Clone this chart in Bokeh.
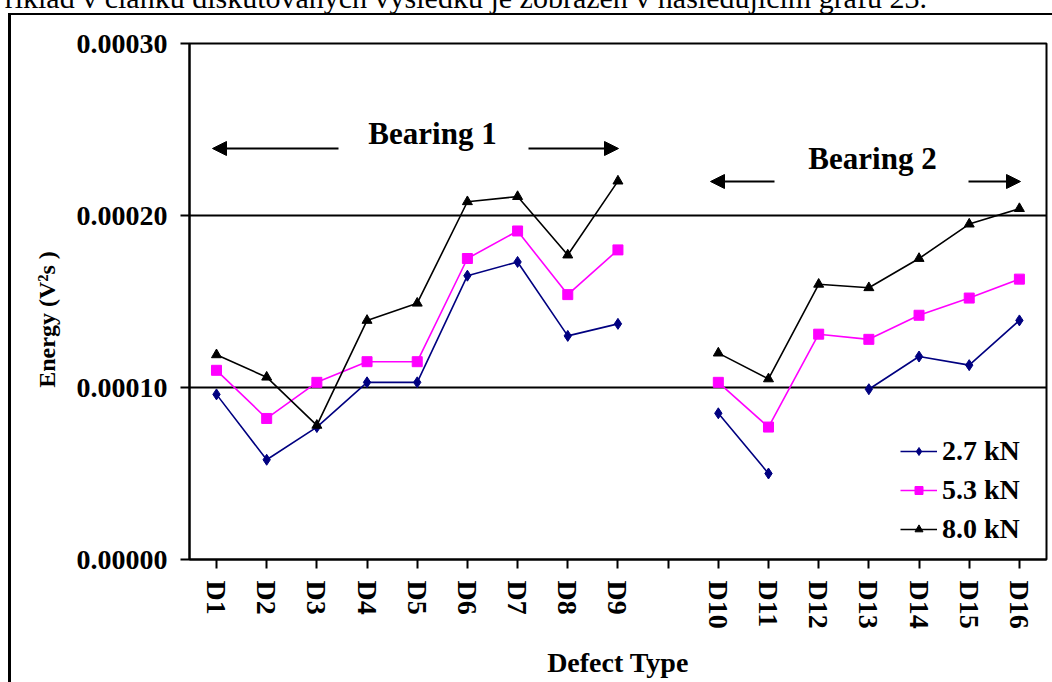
from bokeh.plotting import figure
from bokeh.layouts import column
from bokeh.models import (Range1d, FixedTicker, Label, Arrow, NormalHead, Legend,
                          LegendItem, PrintfTickFormatter, Div)
from bokeh.embed import file_html
from bokeh.resources import INLINE

nan = float("nan")

# ---- data -------------------------------------------------------------
slots = ["D1", "D2", "D3", "D4", "D5", "D6", "D7", "D8", "D9", "",
         "D10", "D11", "D12", "D13", "D14", "D15", "D16"]
defects = ["D1", "D2", "D3", "D4", "D5", "D6", "D7", "D8", "D9",
           "D10", "D11", "D12", "D13", "D14", "D15", "D16"]
energy_27 = [0.000096, 0.000058, 0.000077, 0.000103, 0.000103, 0.000165, 0.000173,
             0.000130, 0.000137, 0.000085, 0.000050, nan, 0.000099, 0.000118,
             0.000113, 0.000139]
energy_53 = [0.000110, 0.000082, 0.000103, 0.000115, 0.000115, 0.000175, 0.000191,
             0.000154, 0.000180, 0.000103, 0.000077, 0.000131, 0.000128, 0.000142,
             0.000152, 0.000163]
energy_80 = [0.000119, 0.000106, 0.000078, 0.000139, 0.000149, 0.000208, 0.000211,
             0.000177, 0.000220, 0.000120, 0.000105, 0.000160, 0.000158, 0.000175,
             0.000195, 0.000204]
y_ticks = [0.0, 0.0001, 0.0002, 0.0003]
series_labels = ["2.7 kN", "5.3 kN", "8.0 kN"]
sentence = "Příklad v článku diskutovaných výsledků je zobrazen v následujícím grafu 23."

xs = list(range(1, len(slots) + 1))

def on_slots(vals):
    m = dict(zip(defects, vals))
    return [m.get(s, nan) for s in slots]

FONT = "Liberation Serif"

W, H = 1052, 682
FL, FR, FT, FB = 189, 1046, 43, 559          # frame edges in pixels
X0, X1 = 0.462, 17.54
Y0, Y1 = 0.0, 0.0003

def px2x(px):
    return X0 + (px - FL) * (X1 - X0) / (FR - FL)

def py2y(py):
    return Y0 + (FB - py) * (Y1 - Y0) / (FB - FT)

p = figure(width=W, height=H, x_range=Range1d(X0, X1), y_range=Range1d(Y0, Y1),
           output_backend="svg", toolbar_location=None,
           min_border_left=FL, min_border_right=W - FR,
           min_border_top=FT, min_border_bottom=H - FB)
p.background_fill_color = "white"
p.border_fill_color = "white"
p.outline_line_color = "black"
p.outline_line_width = 2

# grid
p.xgrid.visible = False
p.ygrid.ticker = FixedTicker(ticks=y_ticks)
p.ygrid.grid_line_color = "black"
p.ygrid.grid_line_width = 2

# y axis
p.yaxis.ticker = FixedTicker(ticks=y_ticks)
p.yaxis.formatter = PrintfTickFormatter(format="%.5f")
p.yaxis.minor_tick_line_color = None
p.yaxis.major_tick_out = 9
p.yaxis.major_tick_in = 0
p.yaxis.major_tick_line_width = 2
p.yaxis.axis_line_width = 2
p.yaxis.major_label_text_font = FONT
p.yaxis.major_label_text_font_style = "bold"
p.yaxis.major_label_text_font_size = "28px"
p.yaxis.major_label_text_color = "black"
p.yaxis.major_label_standoff = 13
# trailing no-break spaces move the centred title slightly lower, as in the original
p.yaxis.axis_label = "Energy (V²s )" + "\u00a0" * 6
p.yaxis.axis_label_text_font = FONT
p.yaxis.axis_label_text_font_style = "bold"
p.yaxis.axis_label_text_font_size = "24px"
p.yaxis.axis_label_text_color = "black"
p.yaxis.axis_label_standoff = 14

# x axis
p.xaxis.ticker = FixedTicker(ticks=xs)
p.xaxis.major_label_overrides = {x: s for x, s in zip(xs, slots)}
p.xaxis.major_label_orientation = "vertical"
p.xaxis.minor_tick_line_color = None
p.xaxis.major_tick_out = 9
p.xaxis.major_tick_in = 0
p.xaxis.major_tick_line_width = 2
p.xaxis.axis_line_width = 2
p.xaxis.major_label_text_font = FONT
p.xaxis.major_label_text_font_style = "bold"
p.xaxis.major_label_text_font_size = "28px"
p.xaxis.major_label_text_color = "black"
p.xaxis.major_label_standoff = 12
p.xaxis.axis_label = "Defect Type"
p.xaxis.axis_label_text_font = FONT
p.xaxis.axis_label_text_font_style = "bold"
p.xaxis.axis_label_text_font_size = "28px"
p.xaxis.axis_label_text_color = "black"
p.xaxis.axis_label_standoff = 15

# series
y27, y53, y80 = on_slots(energy_27), on_slots(energy_53), on_slots(energy_80)
l1 = p.line(xs, y27, line_color="#000080", line_width=1.6)
s1 = p.scatter(xs, y27, marker="diamond", size=11, fill_color="#000080",
               line_color="#000080")
l2 = p.line(xs, y53, line_color="#ff00ff", line_width=1.6)
s2 = p.scatter(xs, y53, marker="square", size=10, fill_color="#ff00ff",
               line_color="#ff00ff")
l3 = p.line(xs, y80, line_color="black", line_width=1.6)
s3 = p.scatter(xs, y80, marker="triangle", size=10, fill_color="black",
               line_color="black")

legend = Legend(items=[LegendItem(label=series_labels[0], renderers=[l1, s1]),
                       LegendItem(label=series_labels[1], renderers=[l2, s2]),
                       LegendItem(label=series_labels[2], renderers=[l3, s3])],
                location=(900 - FL, FB - 545), padding=0, spacing=7,
                glyph_width=37, label_standoff=5,
                label_text_font=FONT, label_text_font_style="bold",
                label_text_font_size="28px", label_text_color="black",
                border_line_alpha=0, background_fill_alpha=0)
p.add_layout(legend, "center")

# bearing annotations
txt = dict(text_font=FONT, text_font_style="bold", text_font_size="31px",
           text_color="black", text_align="center", text_baseline="middle")
p.add_layout(Label(x=px2x(432), y=py2y(133), text="Bearing 1", **txt))
p.add_layout(Label(x=px2x(872), y=py2y(158), text="Bearing 2", **txt))

def arrow(xs_, xe, y):
    p.add_layout(Arrow(end=NormalHead(size=14, fill_color="black", line_color="black"),
                       x_start=px2x(xs_), y_start=py2y(y), x_end=px2x(xe), y_end=py2y(y),
                       line_color="black", line_width=2))

arrow(338, 212, 148)
arrow(528, 618, 148)
arrow(774, 710, 181)
arrow(968, 1020, 181)

# surrounding page: outer chart border and the cut-off sentence above the chart
page_html = (
    '<div style="position:absolute; left:8px; top:13px; width:1041px; height:667px; '
    'border-left:3px solid #000; border-top:2px solid #000; z-index:10; '
    'pointer-events:none; box-sizing:content-box;"></div>'
    '<div style="position:absolute; left:-12px; top:-17px; font-family:\'Liberation Serif\'; '
    'font-size:30px; line-height:30px; white-space:nowrap; color:#000; z-index:10;">'
    + sentence + '</div>'
)
page = Div(text=page_html, width=W, height=0, margin=(0, 0, 0, 0),
           styles={"overflow": "visible"})
p.margin = (0, 0, 0, 0)

layout = column(page, p, spacing=0, margin=(0, 0, 0, 0))

open("out.html", "w").write(file_html(layout, INLINE))
